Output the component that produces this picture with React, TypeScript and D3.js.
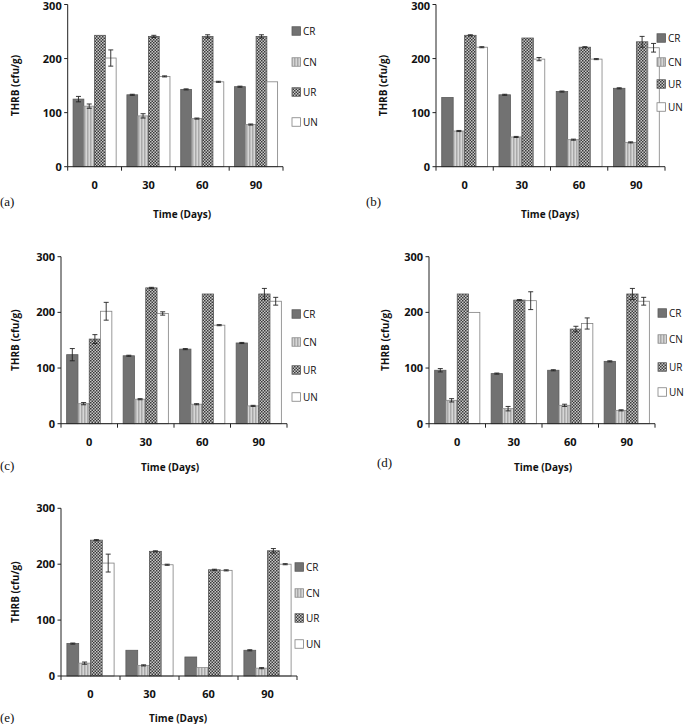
import React from "react";
import * as d3 from "d3";

const days = ["0", "30", "60", "90"];
const seriesNames = ["CR", "CN", "UR", "UN"];
const yTicks = [0, 100, 200, 300];

// panel (a)
const aCR = [125, 133, 143, 148];
const aCN = [112, 94, 89, 78];
const aUR = [243, 241, 241, 241];
const aUN = [201, 167, 157, 157];
const aCRerr = [5, 1, 1, 1];
const aCNerr = [4, 4, 1, 1];
const aURerr = [0, 2, 3, 3];
const aUNerr = [15, 1, 1, 0];

// panel (b)
const bCR = [128, 133, 139, 145];
const bCN = [66, 55, 50, 45];
const bUR = [243, 238, 221, 231];
const bUN = [221, 199, 199, 220];
const bCRerr = [0, 1, 1, 1];
const bCNerr = [1, 1, 1, 1];
const bURerr = [1, 0, 1, 10];
const bUNerr = [1, 3, 1, 8];

// panel (c)
const cCR = [124, 122, 134, 145];
const cCN = [36, 44, 35, 32];
const cUR = [152, 244, 233, 233];
const cUN = [202, 198, 177, 220];
const cCRerr = [11, 1, 1, 1];
const cCNerr = [2, 1, 1, 1];
const cURerr = [8, 1, 0, 10];
const cUNerr = [16, 3, 1, 7];

// panel (d)
const dCR = [96, 90, 96, 112];
const dCN = [42, 27, 33, 24];
const dUR = [233, 222, 170, 233];
const dUN = [200, 221, 180, 220];
const dCRerr = [3, 1, 1, 1];
const dCNerr = [3, 4, 2, 1];
const dURerr = [0, 1, 5, 10];
const dUNerr = [0, 16, 10, 7];

// panel (e)
const eCR = [58, 46, 34, 46];
const eCN = [23, 19, 15, 14];
const eUR = [243, 223, 190, 224];
const eUN = [202, 199, 189, 200];
const eCRerr = [1, 0, 0, 1];
const eCNerr = [2, 1, 0, 1];
const eURerr = [1, 1, 1, 4];
const eUNerr = [16, 1, 1, 1];

const panelLabels = ["(a)", "(b)", "(c)", "(d)", "(e)"];

type Layout = {
  ax: number; y0: number; y300: number; xEnd: number;
  legX: number; legY: number[];
  labX: number; labY: number; titleX: number; titleY: number; yTitleX: number;
};

const layouts: Layout[] = [
  { ax: 67.7, y0: 166.7, y300: 4.5, xEnd: 283, legX: 292, legY: [31, 62, 92, 122], labX: 0, labY: 206, titleX: 182, titleY: 218, yTitleX: 15 },
  { ax: 436, y0: 166.7, y300: 4.5, xEnd: 665, legX: 657, legY: [38, 62, 84, 107], labX: 366, labY: 206, titleX: 550, titleY: 218, yTitleX: 383 },
  { ax: 61, y0: 423.7, y300: 256.7, xEnd: 287, legX: 292, legY: [314, 342, 370, 397], labX: 0, labY: 470, titleX: 170, titleY: 471, yTitleX: 15 },
  { ax: 429, y0: 423.7, y300: 256.7, xEnd: 655, legX: 658, legY: [313, 339, 367, 392], labX: 377, labY: 467, titleX: 543, titleY: 471, yTitleX: 385 },
  { ax: 61, y0: 676, y300: 508.3, xEnd: 297, legX: 295, legY: [567, 593, 618, 644], labX: 0, labY: 722, titleX: 178, titleY: 722, yTitleX: 15 },
];

const panelData = [
  { vals: [aCR, aCN, aUR, aUN], errs: [aCRerr, aCNerr, aURerr, aUNerr] },
  { vals: [bCR, bCN, bUR, bUN], errs: [bCRerr, bCNerr, bURerr, bUNerr] },
  { vals: [cCR, cCN, cUR, cUN], errs: [cCRerr, cCNerr, cURerr, cUNerr] },
  { vals: [dCR, dCN, dUR, dUN], errs: [dCRerr, dCNerr, dURerr, dUNerr] },
  { vals: [eCR, eCN, eUR, eUN], errs: [eCRerr, eCNerr, eURerr, eUNerr] },
];

const fills = ["#727272", "url(#pCN)", "url(#pUR)", "#ffffff"];
const strokes = ["#5a5a5a", "#8a8a8a", "#555555", "#808080"];
const FONT = "'Open Sans', 'Noto Sans', sans-serif";

function Panel({ lay, data, label }: { lay: Layout; data: { vals: number[][]; errs: number[][] }; label: string }) {
  const y = d3.scaleLinear().domain([0, 300]).range([lay.y0, lay.y300]);
  const x0 = d3.scaleBand<string>().domain(days).range([lay.ax, lay.xEnd]).paddingInner(0).paddingOuter(0);
  const bw = x0.bandwidth();
  const x1 = d3.scaleBand<string>().domain(seriesNames).range([bw * 0.1, bw * 0.9]).padding(0);
  const boundaries = d3.range(5).map((i) => lay.ax + i * bw);
  const midY = (lay.y0 + lay.y300) / 2;
  return (
    <g>
      {seriesNames.map((s, si) =>
        days.map((d, di) => {
          const v = data.vals[si][di];
          const bx = (x0(d) as number) + (x1(s) as number);
          return (
            <rect key={s + d} x={bx} y={y(v)} width={x1.bandwidth()} height={lay.y0 - y(v)}
              fill={fills[si]} stroke={strokes[si]} strokeWidth={0.8} />
          );
        })
      )}
      {seriesNames.map((s, si) =>
        days.map((d, di) => {
          const v = data.vals[si][di];
          const e = data.errs[si][di];
          if (!e) return null;
          const cx = (x0(d) as number) + (x1(s) as number) + x1.bandwidth() / 2;
          return (
            <g key={"e" + s + d} stroke="#222" strokeWidth={0.9}>
              <line x1={cx} x2={cx} y1={y(v + e)} y2={y(v - e)} />
              <line x1={cx - 2.5} x2={cx + 2.5} y1={y(v + e)} y2={y(v + e)} />
              <line x1={cx - 2.5} x2={cx + 2.5} y1={y(v - e)} y2={y(v - e)} />
            </g>
          );
        })
      )}
      <line x1={lay.ax} x2={lay.ax} y1={lay.y0} y2={lay.y300} stroke="#222" strokeWidth={1} />
      <line x1={lay.ax} x2={lay.xEnd} y1={lay.y0} y2={lay.y0} stroke="#222" strokeWidth={1} />
      {yTicks.map((t) => (
        <g key={"yt" + t}>
          <line x1={lay.ax - 3.5} x2={lay.ax} y1={y(t)} y2={y(t)} stroke="#222" strokeWidth={1} />
          <text x={lay.ax - 6} y={Math.max(y(t), 6.5)} dy="0.36em" textAnchor="end" fontFamily={FONT} fontWeight="bold" fontSize={11} fill="#111">{t}</text>
        </g>
      ))}
      {boundaries.map((bx, i) => (
        <line key={"xt" + i} x1={bx} x2={bx} y1={lay.y0} y2={lay.y0 + 4} stroke="#222" strokeWidth={1} />
      ))}
      {days.map((d) => (
        <text key={"xl" + d} x={(x0(d) as number) + bw / 2} y={lay.y0 + 22} textAnchor="middle" fontFamily={FONT} fontWeight="bold" fontSize={11} fill="#111">{d}</text>
      ))}
      <text x={lay.titleX} y={lay.titleY} textAnchor="middle" fontFamily={FONT} fontWeight="bold" fontSize={10} fill="#111">Time (Days)</text>
      <text transform={`translate(${lay.yTitleX},${midY}) rotate(-90)`} textAnchor="middle" dy="0.35em" fontFamily={FONT} fontWeight="bold" fontSize={10} fill="#111">THRB (cfu/g)</text>
      <text x={lay.labX} y={lay.labY} fontFamily="'Liberation Serif', 'DejaVu Serif', serif" fontSize={13} fill="#111">{label}</text>
      {seriesNames.map((s, si) => (
        <g key={"lg" + s}>
          <rect x={lay.legX} y={lay.legY[si] - 4.25} width={8.5} height={8.5} fill={fills[si]} stroke={strokes[si]} strokeWidth={0.8} />
          <text x={lay.legX + 11} y={lay.legY[si]} dy="0.36em" fontFamily={FONT} fontSize={10} fill="#111">{s}</text>
        </g>
      ))}
    </g>
  );
}

export default function App() {
  return (
    <svg width={685} height={724} style={{ position: "absolute", left: 0, top: 0, background: "#fff" }}>
      <defs>
        <pattern id="pCN" patternUnits="userSpaceOnUse" width={3} height={3}>
          <rect width={3} height={3} fill="#d6d6d6" />
          <rect width={1.5} height={3} fill="#a9a9a9" />
        </pattern>
        <pattern id="pUR" patternUnits="userSpaceOnUse" width={3} height={3}>
          <rect width={3} height={3} fill="#c8c8c8" />
          <rect width={1.5} height={1.5} fill="#3a3a3a" />
          <rect x={1.5} y={1.5} width={1.5} height={1.5} fill="#3a3a3a" />
        </pattern>
      </defs>
      {layouts.map((lay, i) => (
        <Panel key={i} lay={lay} data={panelData[i]} label={panelLabels[i]} />
      ))}
    </svg>
  );
}
